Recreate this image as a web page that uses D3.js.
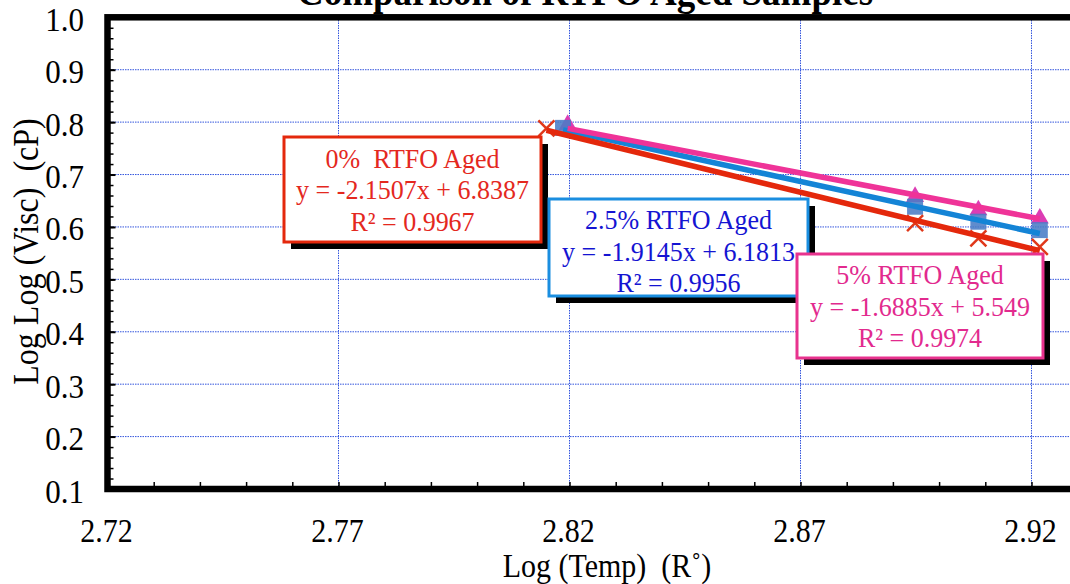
<!DOCTYPE html>
<html><head><meta charset="utf-8">
<script src="https://cdn.jsdelivr.net/npm/d3@7"></script>
<style>
html,body{margin:0;padding:0;background:#fff;}
svg{display:block;}
text{font-family:"Liberation Serif","Times New Roman",serif;}
</style></head>
<body>
<svg id="chart" width="1070" height="584"></svg>
<script>
// ---- data ----
const title = "Comparison of RTFO Aged Samples";
const xLabel = "Log (Temp)  (R\u02DA)";
const yLabel = "Log Log (Visc)  (cP)";
const xTicks = [2.72, 2.77, 2.82, 2.87, 2.92];
const yTicks = [0.1, 0.2, 0.3, 0.4, 0.5, 0.6, 0.7, 0.8, 0.9, 1.0];
const seriesNames = ["0%  RTFO Aged", "2.5% RTFO Aged", "5% RTFO Aged"];
const x0 = [2.8150, 2.8948, 2.9085, 2.9218];
const y0 = [0.788, 0.6075, 0.578, 0.562];
const x25 = [2.8186, 2.8948, 2.9085, 2.9218];
const y25 = [0.789, 0.6386, 0.610, 0.594];
const x5 = [2.8196, 2.8948, 2.9085, 2.9218];
const y5 = [0.795, 0.6577, 0.632, 0.6165];
const slopes = [-2.1507, -1.9145, -1.6885];
const intercepts = [6.8387, 6.1813, 5.549];
const r2 = [0.9967, 0.9956, 0.9974];

// ---- layout ----
const svg = d3.select("#chart");
const x = d3.scaleLinear().domain([2.72, 2.93]).range([107.5, 1077.7]);
const y = d3.scaleLinear().domain([0.1, 1.0]).range([489, 17.3]);
const gridColor = "#3355dd";
const colors = {
  line: ["#e4280c", "#1484d6", "#ef3398"],
  text: ["#e4281e", "#1414d2", "#e22a8e"],
  border: ["#e4280c", "#1a8ee0", "#e8338e"]
};
const stretch = 1.1;

// gridlines
svg.append("g").selectAll("line").data(yTicks.filter(d => d > 0.15 && d < 0.95)).join("line")
  .attr("x1", x.range()[0]).attr("x2", x.range()[1])
  .attr("y1", d => y(d)).attr("y2", d => y(d))
  .attr("stroke", gridColor).attr("stroke-width", 1).attr("stroke-dasharray", "1.5,1");
svg.append("g").selectAll("line").data(xTicks.slice(1)).join("line")
  .attr("y1", y.range()[0]).attr("y2", y.range()[1])
  .attr("x1", d => x(d)).attr("x2", d => x(d))
  .attr("stroke", gridColor).attr("stroke-width", 1).attr("stroke-dasharray", "1.5,1");

// axes (inner ticks)
const xMinor = d3.range(0, 22).map(i => +(2.72 + i * 0.01).toFixed(2));
const yMinor = d3.range(0, 46).map(i => +(0.1 + i * 0.02).toFixed(2));
svg.append("g").attr("transform", `translate(0,${y.range()[0]})`)
  .call(d3.axisBottom(x).tickValues(xMinor).tickSize(-7).tickFormat(""))
  .call(g => g.select(".domain").remove())
  .call(g => g.selectAll("line").attr("stroke", "#000").attr("stroke-width", 1.5));
svg.append("g").attr("transform", `translate(${x.range()[0]},0)`)
  .call(d3.axisLeft(y).tickValues(yMinor).tickSize(-6).tickFormat(""))
  .call(g => g.select(".domain").remove())
  .call(g => g.selectAll("line").attr("stroke", "#000").attr("stroke-width", 1.5));
svg.append("g").attr("transform", `translate(${x.range()[0]},0)`)
  .call(d3.axisLeft(y).tickValues(yTicks).tickSize(-8).tickFormat(""))
  .call(g => g.select(".domain").remove())
  .call(g => g.selectAll("line").attr("stroke", "#000").attr("stroke-width", 2));

// frame
svg.append("rect")
  .attr("x", x.range()[0]).attr("y", y.range()[1])
  .attr("width", x.range()[1] - x.range()[0]).attr("height", y.range()[0] - y.range()[1])
  .attr("fill", "none").attr("stroke", "#000").attr("stroke-width", 6.5);

// tick labels
svg.append("g").selectAll("text").data(xTicks).join("text")
  .attr("transform", d => `translate(${x(d) - 1},541.5) scale(1,${stretch})`)
  .attr("text-anchor", "middle").attr("font-size", 30).text(d => d.toFixed(2));
svg.append("g").selectAll("text").data(yTicks).join("text")
  .attr("transform", d => `translate(84,${y(d) + 13.5}) scale(1,${stretch})`)
  .attr("text-anchor", "end").attr("font-size", 31).text(d => d.toFixed(1));

// axis titles
svg.append("text").attr("transform", `translate(607,577) scale(1,${stretch})`).attr("text-anchor", "middle")
  .attr("font-size", 30).style("white-space", "pre").text(xLabel);
svg.append("text").attr("transform", `translate(38,251.5) rotate(-90) scale(1,${stretch})`)
  .attr("text-anchor", "middle").attr("font-size", 32).style("white-space", "pre").text(yLabel);
svg.append("text").attr("transform", `translate(585,5) scale(1,${stretch})`).attr("text-anchor", "middle")
  .attr("font-size", 37).attr("font-weight", "bold").text(title);

// markers
const tri = d3.symbol().type(d3.symbolTriangle).size(140);
svg.append("g").selectAll("path").data(x5.map((d, i) => [d, y5[i]])).join("path")
  .attr("d", tri).attr("transform", d => `translate(${x(d[0])},${y(d[1])})`)
  .attr("fill", "#dc3cb4");
svg.append("g").selectAll("rect").data(x25.map((d, i) => [d, y25[i]])).join("rect")
  .attr("x", d => x(d[0]) - 8).attr("y", d => y(d[1]) - 8)
  .attr("width", 16).attr("height", 16).attr("fill", "#4a7cc6").attr("opacity", 0.88);
svg.append("g").selectAll("path").data(x0.map((d, i) => [d, y0[i]])).join("path")
  .attr("d", d => {
    const cx = x(d[0]), cy = y(d[1]), s = 8;
    return `M${cx - s},${cy - s}L${cx + s},${cy + s}M${cx - s},${cy + s}L${cx + s},${cy - s}`;
  })
  .attr("stroke", "#e0381a").attr("stroke-width", 2.5).attr("fill", "none");

// trendlines
const xs = [x0, x25, x5];
[1, 2, 0].forEach(i => {
  const xa = d3.min(xs[i]), xb = d3.max(xs[i]);
  svg.append("line")
    .attr("x1", x(xa)).attr("y1", y(slopes[i] * xa + intercepts[i]))
    .attr("x2", x(xb)).attr("y2", y(slopes[i] * xb + intercepts[i]))
    .attr("stroke", colors.line[i]).attr("stroke-width", 5.5).attr("stroke-linecap", "butt");
});

// label boxes
const boxes = [
  {x: 284, y: 137, w: 257, h: 105, cx: 412.5, base: 167.7},
  {x: 549, y: 199, w: 259, h: 97, cx: 678.5, base: 229},
  {x: 797, y: 254, w: 246, h: 104, cx: 920, base: 284}
];
const fmtEq = i => `y = ${slopes[i].toFixed(4)}x + ${intercepts[i]}`;
boxes.forEach((b, i) => {
  const g = svg.append("g");
  g.append("rect").attr("x", b.x + 7).attr("y", b.y + 7).attr("width", b.w).attr("height", b.h).attr("fill", "#000");
  g.append("rect").attr("x", b.x).attr("y", b.y).attr("width", b.w).attr("height", b.h)
    .attr("fill", "#fff").attr("stroke", colors.border[i]).attr("stroke-width", 3);
  const lines = [seriesNames[i], fmtEq(i), `R\u00B2 = ${r2[i]}`];
  lines.forEach((t, k) => {
    g.append("text").attr("transform", `translate(${b.cx},${b.base + k * 31.7}) scale(1,1.05)`)
      .attr("text-anchor", "middle")
      .attr("font-size", 26).attr("fill", colors.text[i]).style("white-space", "pre").text(t);
  });
});
</script>
</body></html>
